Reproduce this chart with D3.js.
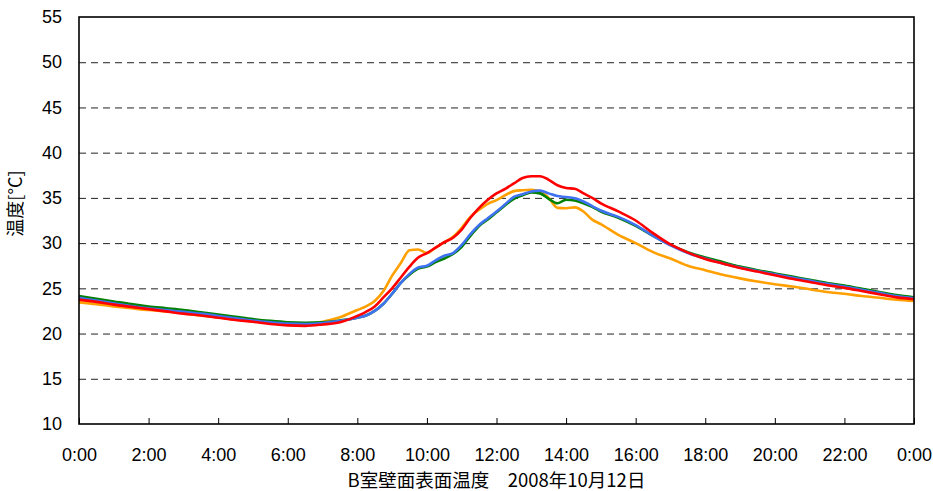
<!DOCTYPE html>
<meta charset="utf-8">
<script src="https://cdn.jsdelivr.net/npm/d3@7"></script>
<style>
  body { margin: 0; background: #fff; }
  text { font-family: "Liberation Sans", "Noto Sans CJK JP", sans-serif; fill: #000; }
</style>
<div id="chart"></div>
<script>

// time of day in hours
var hours = [0,0.5,1,1.5,2,2.5,3,3.5,4,4.5,5,5.5,6,6.5,7,7.5,
  8,8.25,8.5,8.75,9,9.25,9.5,9.75,10,10.25,10.5,10.75,11,11.25,11.5,11.75,
  12,12.25,12.5,12.75,13,13.25,13.5,13.75,14,14.25,14.5,14.75,15,
  15.5,16,16.5,17,17.5,18,18.5,19,19.5,20,20.5,21,21.5,22,22.5,23,23.5,24];

var green = [24.15,23.85,23.55,23.25,23.0,22.8,22.6,22.35,22.1,21.85,21.6,21.4,21.25,21.2,21.25,21.45,
  21.75,22.0,22.5,23.3,24.4,25.6,26.5,27.2,27.4,27.9,28.3,28.8,29.6,30.8,31.9,32.6,
  33.4,34.2,34.9,35.3,35.6,35.5,34.9,34.4,34.8,34.7,34.4,34.0,33.5,
  32.8,31.9,30.8,29.8,29.0,28.4,27.9,27.4,27.0,26.65,26.3,25.95,25.6,25.3,24.95,24.6,24.25,24.0];

var blue = [23.95,23.65,23.35,23.05,22.8,22.6,22.4,22.2,21.95,21.7,21.45,21.25,21.1,21.05,21.15,21.4,
  21.75,22.0,22.5,23.3,24.4,25.6,26.6,27.3,27.5,28.1,28.6,28.9,29.8,31.0,32.0,32.75,
  33.5,34.3,35.1,35.4,35.7,35.8,35.5,35.2,35.1,34.95,34.6,34.1,33.6,
  32.9,32.0,30.8,29.75,28.9,28.3,27.75,27.3,26.9,26.55,26.2,25.85,25.5,25.2,24.85,24.5,24.15,23.9];

var red = [23.75,23.5,23.2,22.95,22.7,22.45,22.2,22.0,21.75,21.5,21.3,21.05,20.9,20.85,21.0,21.25,
  21.95,22.4,23.0,24.0,25.0,26.2,27.4,28.4,28.9,29.5,30.1,30.6,31.5,32.8,33.9,34.8,
  35.5,36.0,36.6,37.2,37.4,37.4,37.0,36.4,36.1,36.0,35.5,35.0,34.4,
  33.5,32.5,31.1,29.85,28.95,28.25,27.75,27.25,26.85,26.45,26.05,25.7,25.35,25.05,24.7,24.35,24.0,23.8];

var orange = [23.45,23.25,23.0,22.8,22.6,22.45,22.25,22.0,21.8,21.55,21.35,21.15,21.05,21.05,21.3,21.8,
  22.6,23.0,23.6,24.7,26.4,27.8,29.2,29.3,28.9,29.5,30.1,30.7,31.7,32.9,33.7,34.35,
  34.75,35.3,35.75,35.85,35.9,35.7,35.0,33.9,33.85,33.95,33.5,32.6,32.1,
  30.9,30.0,29.0,28.3,27.5,27.0,26.5,26.1,25.75,25.45,25.2,24.9,24.6,24.4,24.15,23.95,23.75,23.6];

var xTicks = [0,2,4,6,8,10,12,14,16,18,20,22,24];
var yTicks = [10,15,20,25,30,35,40,45,50,55];

var series = [
  {name: "orange", values: orange, color: "#ffa000"},
  {name: "green", values: green, color: "#008000"},
  {name: "blue", values: blue, color: "#3f72f0"},
  {name: "red", values: red, color: "#ff0000"}
];

var W = 933, H = 491;
var margin = {top: 17, right: 19, bottom: 67, left: 79},
    width = W - margin.left - margin.right,
    height = H - margin.top - margin.bottom;

var svg = d3.select("#chart")
  .append("svg")
    .attr("width", W)
    .attr("height", H)
  .append("g")
    .attr("transform", "translate(" + margin.left + "," + margin.top + ")");

var x = d3.scaleLinear().domain([0, 24]).range([0, width]);
var y = d3.scaleLinear().domain([10, 55]).range([height, 0]);

// dashed grid lines
svg.append("g")
  .selectAll("line")
  .data(yTicks.filter(function(d) { return d > 10 && d < 55; }))
  .enter().append("line")
    .attr("x1", 0).attr("x2", width)
    .attr("y1", function(d) { return y(d) + 0.5; })
    .attr("y2", function(d) { return y(d) + 0.5; })
    .attr("stroke", "#222")
    .attr("stroke-width", 1)
    .attr("stroke-dasharray", "7,5");

// X axis (ticks pointing inward)
var xAxis = svg.append("g")
  .attr("transform", "translate(0," + height + ")")
  .call(d3.axisBottom(x).tickValues(xTicks).tickSizeInner(-6).tickSizeOuter(0).tickPadding(24)
    .tickFormat(function(d) { return (d % 24) + ":00"; }));
xAxis.select(".domain").remove();
xAxis.selectAll("line").attr("stroke", "#000");
xAxis.selectAll("text").style("font-size", "18px");

// Y axis labels
var yAxis = svg.append("g")
  .call(d3.axisLeft(y).tickValues(yTicks).tickSize(0).tickPadding(17));
yAxis.select(".domain").remove();
yAxis.selectAll("text").style("font-size", "18px");

// lines
var line = d3.line()
  .x(function(d, i) { return x(hours[i]); })
  .y(function(d) { return y(d); })
  .curve(d3.curveMonotoneX);

svg.append("g")
  .selectAll("path")
  .data(series)
  .enter().append("path")
    .attr("fill", "none")
    .attr("stroke", function(d) { return d.color; })
    .attr("stroke-width", 2.6)
    .attr("stroke-linejoin", "round")
    .attr("d", function(d) { return line(d.values); });

// frame
svg.append("rect")
  .attr("x", 0).attr("y", 0)
  .attr("width", width).attr("height", height)
  .attr("fill", "none")
  .attr("stroke", "#000")
  .attr("stroke-width", 1.6);

// axis titles
svg.append("text")
  .attr("transform", "translate(" + (-57) + "," + (height / 2 - 17) + ") rotate(-90)")
  .attr("text-anchor", "middle")
  .style("font-size", "18px")
  .style("font-family", "'Noto Sans CJK JP', sans-serif")
  .text("温度[°C]");

svg.append("text")
  .attr("x", width / 2)
  .attr("y", height + 63)
  .attr("text-anchor", "middle")
  .style("font-size", "18.5px")
  .style("font-family", "'Noto Sans CJK JP', sans-serif")
  .attr("xml:space", "preserve")
  .text("B室壁面表面温度　2008年10月12日");

</script>
